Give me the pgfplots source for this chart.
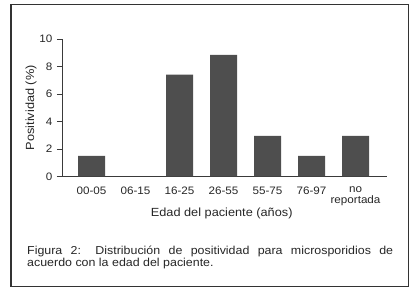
\documentclass[border=0pt]{standalone}
\usepackage{pgfplots}
\pgfplotsset{compat=1.18}
\usepackage{fontspec}
\setmainfont{Liberation Sans}[FakeStretch=1.08]
\definecolor{barc}{HTML}{4E4E4E}
\definecolor{framec}{HTML}{333333}
\definecolor{axc}{HTML}{3A3A3A}
\begin{document}
\begin{tikzpicture}[x=1bp,y=1bp]
\path[use as bounding box] (0,0) rectangle (417,295);
\draw[framec, line width=1.5bp] (11,8.5) rectangle (408.3,290.7);
\begin{axis}[
  at={(62.9bp,118.5bp)}, anchor=south west,
  x=44bp, y=13.75bp,
  scale only axis,
  xmin=-0.65, xmax=6.716, ymin=0, ymax=10,
  axis x line=bottom, axis y line=left,
  axis line style={axc, line width=0.9bp, -},
  x axis line style={shorten <=-6bp},
  ytick={0,2,4,6,8,10},
  tick align=outside, tick style={axc, line width=0.8bp},
  major tick length=6bp,
  xtick={0,1,2,3,4,5,6},
  xticklabels={00-05,06-15,16-25,26-55,55-75,76-97,{no\\reportada}},
  xtick style={draw=none},
  xticklabel style={font=\fontsize{10.8bp}{11bp}\selectfont, align=center, yshift=-1bp, text=black!85},
  yticklabel style={font=\fontsize{10.8bp}{11bp}\selectfont, xshift=-1bp, text=black!85},
  /pgf/number format/assume math mode=true,
  xlabel={Edad del paciente (años)},
  ylabel={Positividad (\%)},
  xlabel style={font=\fontsize{11.8bp}{13bp}\selectfont, text=black!85, at={(axis description cs:0.49,0)}, anchor=north, yshift=-28bp},
  ylabel style={font=\fontsize{11.8bp}{13bp}\selectfont, text=black!85, yshift=-4bp},
  ybar, bar width=27bp,
]
\addplot[fill=barc, draw=none] coordinates {(0,1.5) (2,7.4) (3,8.85) (4,2.95) (5,1.5) (6,2.95)};
\end{axis}
\node[anchor=north west, text width=366bp, align=justify, inner sep=0pt,
      font=\fontsize{11.5bp}{12.3bp}\selectfont, text=black!85]
  at (27,49) {Figura 2: Distribución de positividad para microsporidios de\linebreak acuerdo con la edad del paciente.};
\end{tikzpicture}
\end{document}
